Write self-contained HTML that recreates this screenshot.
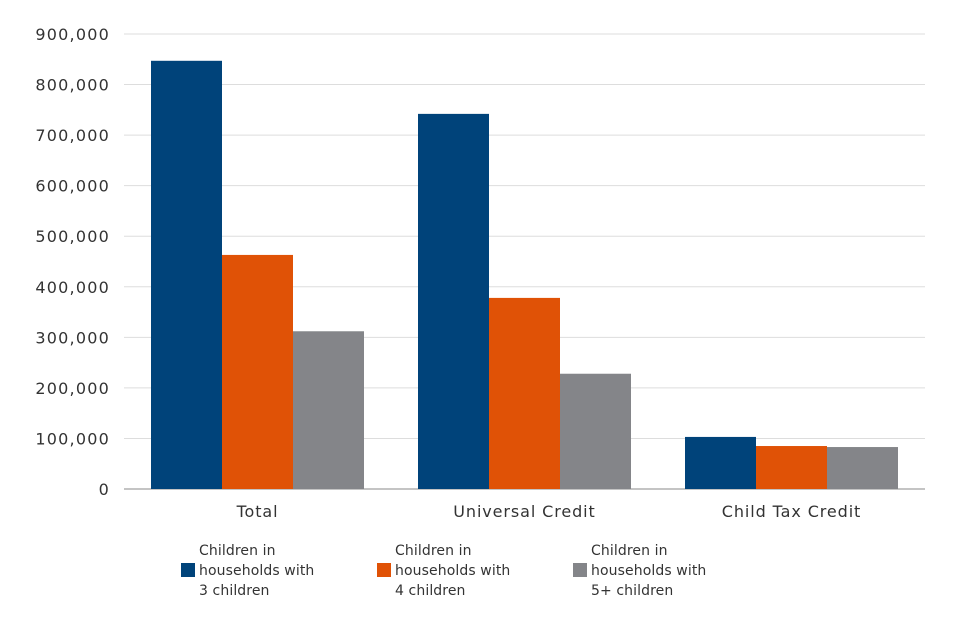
<!DOCTYPE html>
<html><head><meta charset="utf-8"><style>
body{margin:0;background:#fff;font-family:"DejaVu Sans","Liberation Sans",sans-serif;}
svg text{font-family:"DejaVu Sans","Liberation Sans",sans-serif;fill:#333;}
</style></head><body>
<svg id="chart" width="960" height="640"></svg>
<script>
const categories=["Total","Universal Credit","Child Tax Credit"];
const series3=[847000,742000,103000];
const series4=[463000,378000,85000];
const series5=[312000,228000,83000];
const yTicks=[0,100000,200000,300000,400000,500000,600000,700000,800000,900000];
const seriesNames=[["Children in","households with","3 children"],["Children in","households with","4 children"],["Children in","households with","5+ children"]];
const colors=["#00437a","#e05206","#848589"];
const NS="http://www.w3.org/2000/svg";
const svg=document.getElementById("chart");
const x0=124,x1=925,y0=489,yTop=34,yMax=900000;
const yS=v=>y0-(v/yMax)*(y0-yTop);
const groupW=(x1-x0)/categories.length;
const barW=71;
function mk(t,a){const e=document.createElementNS(NS,t);for(const k in a)e.setAttribute(k,a[k]);svg.appendChild(e);return e;}
yTicks.forEach(v=>{
  const g=mk("line",{x1:x0,x2:x1,y1:yS(v),y2:yS(v),stroke:v===0?"#888":"#ddd","stroke-width":1});
  
  
  const t=mk("text",{x:110,y:yS(v)+6,"text-anchor":"end","font-size":16,"letter-spacing":1.2});
  t.textContent=v.toLocaleString("en-US");
  
  
});
const all=[series3,series4,series5];
categories.forEach((c,i)=>{
  const cx=x0+groupW*(i+0.5);
  all.forEach((s,j)=>{
    const bx=cx-1.5*barW+j*barW;
    const r=mk("rect",{x:bx,y:yS(s[i]),width:barW,height:y0-yS(s[i]),fill:colors[j]});
    
    
  });
  const t=mk("text",{x:cx,y:517,"text-anchor":"middle","font-size":16,"letter-spacing":0.9});
  t.textContent=c;
  
  
});
seriesNames.forEach((n,j)=>{
  const lx=181+j*196;
  const r=mk("rect",{x:lx,y:563,width:14,height:14,fill:colors[j]});
  
  
  n.forEach((line,k)=>{
    const t=mk("text",{x:lx+18,y:555+k*20,"font-size":14,"letter-spacing":0.1});
    t.textContent=line;
    
    
  });
});
</script>
</body></html>
